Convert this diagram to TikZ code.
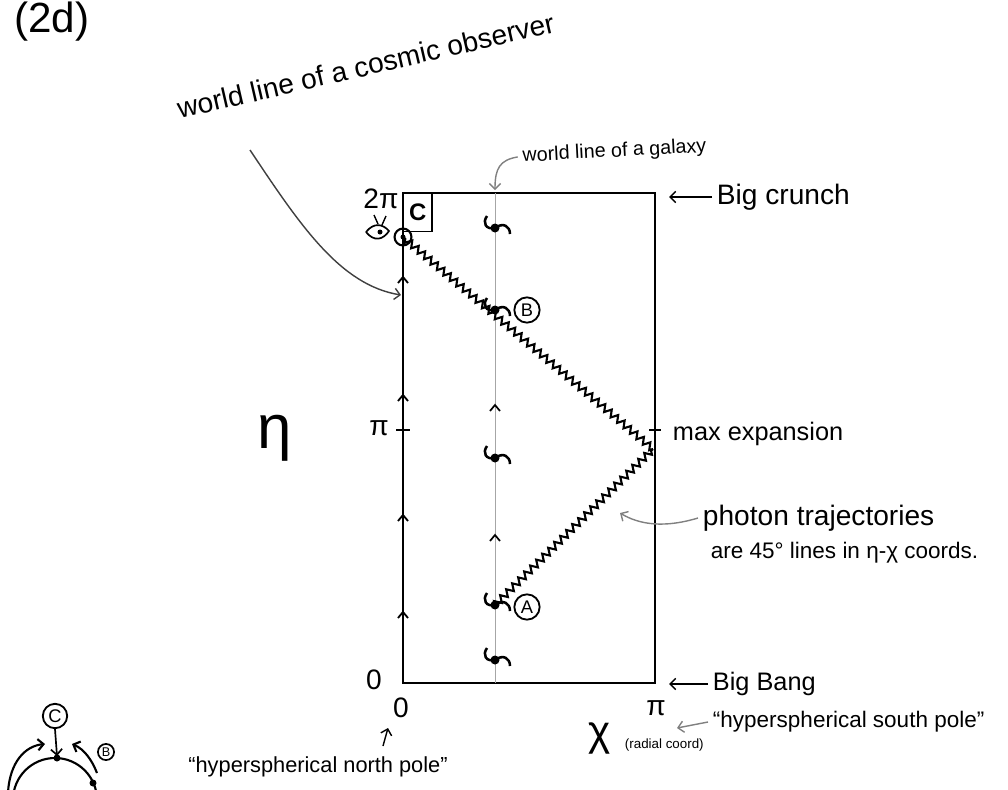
\documentclass[tikz,border=0pt]{standalone}
\usepackage{fontspec}
\setmainfont{Liberation Sans}
\usetikzlibrary{arrows.meta,decorations.pathmorphing}
\tikzset{
	wiggle/.style={decorate,decoration={zigzag,segment length=6pt,amplitude=2.4pt},line width=1.5pt},
	pointer/.style={-{Straight Barb[length=4pt,width=8pt]},line width=1pt},
	hand/.style={font=\fontsize{20}{23}\selectfont},
	smallhand/.style={font=\fontsize{16}{19}\selectfont},
	ring/.style={circle,draw,line width=1.3pt,inner sep=0pt,minimum size=18pt,font=\fontsize{13}{15}\selectfont}
}
\begin{document}
\begin{tikzpicture}[x=0.025cm,y=-0.025cm]
		\useasboundingbox (0,0) rectangle (1008,790);
		\node[font=\fontsize{30}{34}\selectfont] (tag) at (52,22) {(2d)};

		% the diagram
		\coordinate (SW) at (403,683);
		\coordinate (NE) at (655,193);
		\draw[line width=2pt] (SW) rectangle (NE);
		\draw[gray!70,line width=0.6pt] (495,193) -- (495,683);

		\draw[line width=1pt] (396,430) -- (410,430);
		\draw[line width=1pt] (649,430) -- (661,430);

		\foreach \k in {277,395,515,612}{
			\draw[line width=1.3pt] (398,\k+6) -- (403,\k) -- (408,\k+6);
			}
		\foreach \k in {405,535}{
			\draw[line width=1.2pt] (490,\k+6) -- (495,\k) -- (500,\k+6);
			}

		% galaxies
		\foreach \k in {228,310,458,605,660}{
			\fill (495,\k) circle [radius=4.5];
			\draw[line width=1.8pt] (495,\k) .. controls (486,\k+2) and (482,\k-5) .. (487,\k-12);
			\draw[line width=1.8pt] (495,\k) .. controls (503,\k-6) and (510,\k-2) .. (510,\k+6);
			}

		% photons
		\coordinate (obs) at (403,237);
		\coordinate (gA) at (495,605);
		\coordinate (turn) at (653,449);
		\draw[wiggle] (gA) -- (turn);
		\draw[wiggle] (turn) -- (obs);

		\node[ring] (A) at (527,607) {A};
		\node[ring] (B) at (527,310) {B};
		\node[draw,line width=1pt,anchor=north west,minimum width=20pt,minimum height=27pt,inner sep=0pt,font=\fontsize{17}{20}\selectfont\bfseries] (C) at (403,193) {C};

		% observer
		\node[circle,draw,line width=1.5pt,minimum size=12pt,inner sep=0pt] (eyeball) at (obs) {};
		\fill (obs) circle [radius=2.5];
		\draw[line width=1.2pt] (366,232) .. controls (374,222) and (383,224) .. (389,231) .. controls (383,240) and (374,242) .. (366,232);
		\fill (380,232) circle [radius=2.5];
		\draw[line width=1pt] (378,224) -- (374,215);
		\draw[line width=1pt] (382,225) -- (386,216);

		% axis labels
		\node[hand] (twopi) at (381,199) {2π};
		\node[hand] (pi) at (379,428) {π};
		\node[hand] (zero) at (374,680) {0};
		\node[hand] (zerox) at (401,708) {0};
		\node[hand] (pix) at (656,708) {π};
		\node[font=\fontsize{44}{48}\selectfont] (eta) at (275,438) {η};
		\node[font=\fontsize{30}{34}\selectfont] (chi) at (600,738) {χ};
		\node[font=\fontsize{9.5}{11}\selectfont,anchor=west] (radial) at (620,745) {(radial coord)};

		% annotations
		\node[hand,rotate=13,anchor=base west] (observer) at (175,120) {world line of a cosmic observer};
		\coordinate (obsfrom) at (250,150);
		\coordinate (obsto) at (401,295);
		\draw[pointer,black!75] (obsfrom) .. controls (300,225) and (340,285) .. (obsto);

		\node[font=\fontsize{14}{16}\selectfont,rotate=3,anchor=base west] (galaxy) at (518,162) {world line of a galaxy};
		\coordinate (galto) at (495,190);
		\draw[pointer,gray] (galaxy.west) .. controls (500,160) and (495,168) .. (galto);

		\node[hand,anchor=west] (crunch) at (712,197) {Big crunch};
		\draw[pointer,shorten >=10pt] (crunch.west) -- (crunch.west -| NE);

		\node[font=\fontsize{18}{21}\selectfont,anchor=west] (maxexp) at (668,434) {max expansion};

		\node[hand,anchor=west] (photon) at (698,518) {photon trajectories};
		\node[smallhand,anchor=west] (photon2) at (706,553) {are 45° lines in η-χ coords.};
		\coordinate (photto) at (620,513);
		\draw[pointer,gray] (photon.west) .. controls (665,528) and (640,525) .. (photto);

		\node[font=\fontsize{18}{21}\selectfont,anchor=west] (bang) at (708,684) {Big Bang};
		\draw[pointer,shorten >=10pt] (bang.west) -- (bang.west -| NE);

		\node[smallhand,anchor=west] (south) at (708,722) {“hyperspherical south pole”};
		\coordinate (southto) at (677,728);
		\draw[pointer,gray] (south.west) -- (southto);

		\node[font=\fontsize{15.5}{18}\selectfont] (north) at (318,767) {“hyperspherical north pole”};
		\coordinate (northfrom) at (383,746);
		\coordinate (northto) at (388,728);
		\draw[pointer] (northfrom) -- (northto);

		% small sketch of the hypersphere
		\draw[line width=1.5pt] (55,800) circle [radius=42];
		\fill (57,758) circle [radius=3.5];
		\fill (93,783) circle [radius=3.5];
		\draw[pointer,line width=1.5pt] (8,792) .. controls (10,762) and (25,746) .. (45,744);
		\draw[pointer,line width=1.5pt] (97,773) .. controls (92,760) and (84,749) .. (72,744);
		\node[circle,draw,line width=1.3pt,inner sep=1.5pt,font=\fontsize{13}{15}\selectfont] (Cs) at (55,716) {C};
		\node[circle,draw,line width=1.2pt,inner sep=1pt,font=\fontsize{9}{11}\selectfont] (Bs) at (106,752) {B};
		\coordinate (top) at (57,756);
		\draw[pointer,line width=1.2pt] (Cs.south) -- (top);
	\end{tikzpicture}
\end{document}
